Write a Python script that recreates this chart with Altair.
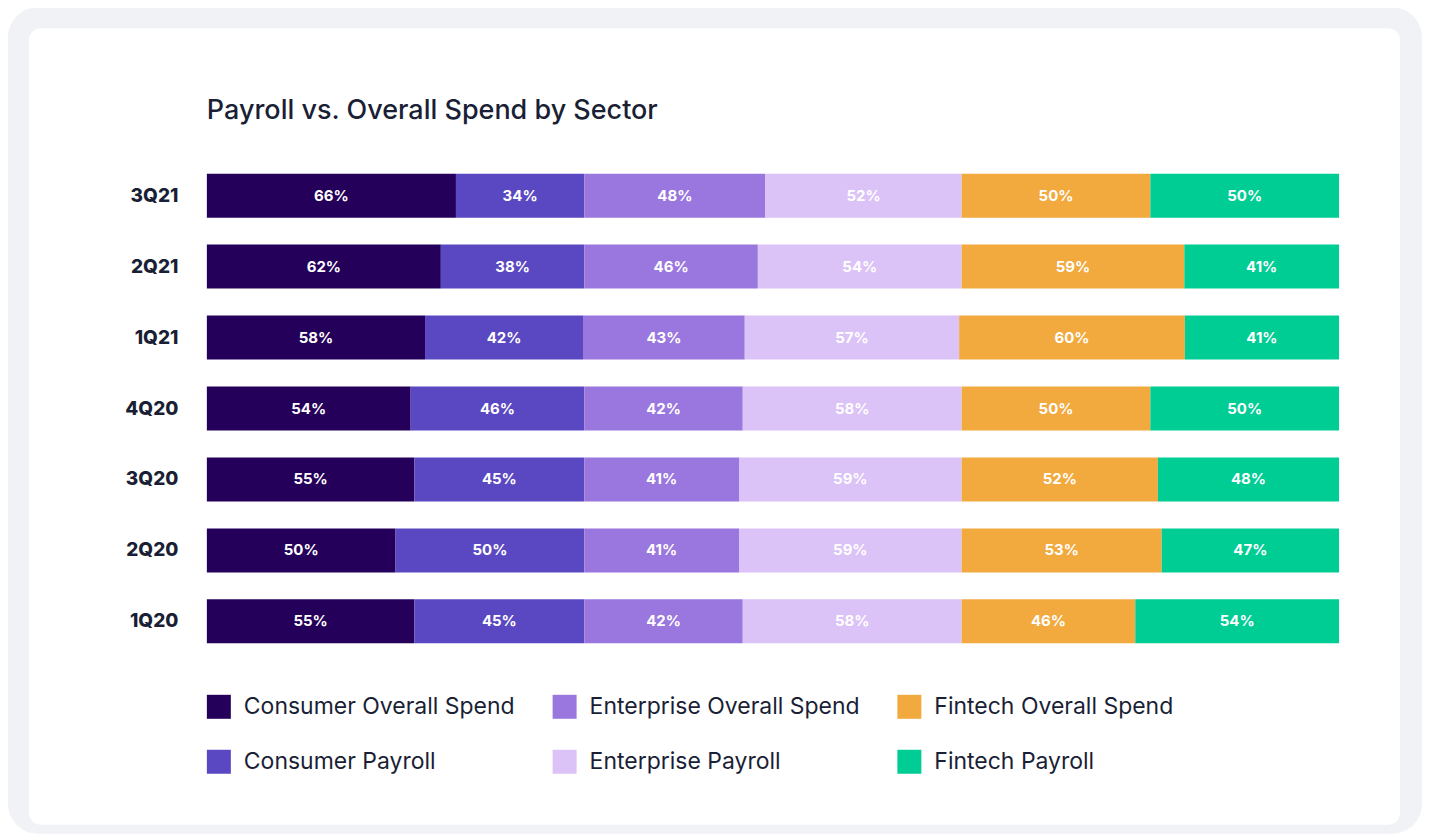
import altair as alt
import pandas as pd

quarters = ["3Q21", "2Q21", "1Q21", "4Q20", "3Q20", "2Q20", "1Q20"]
series = ["Consumer Overall Spend", "Consumer Payroll",
          "Enterprise Overall Spend", "Enterprise Payroll",
          "Fintech Overall Spend", "Fintech Payroll"]
consumer_overall = [66, 62, 58, 54, 55, 50, 55]
consumer_payroll = [34, 38, 42, 46, 45, 50, 45]
enterprise_overall = [48, 46, 43, 42, 41, 41, 42]
enterprise_payroll = [52, 54, 57, 58, 59, 59, 58]
fintech_overall = [50, 59, 60, 50, 52, 53, 46]
fintech_payroll = [50, 41, 41, 50, 48, 47, 54]
colors = ["#24005a", "#5a48c2", "#9a77de", "#dbc2f7", "#f2a93e", "#00cd94"]
title_text = "Payroll vs. Overall Spend by Sector"

values = [consumer_overall, consumer_payroll, enterprise_overall,
          enterprise_payroll, fintech_overall, fintech_payroll]
rows = []
for si, (name, vals) in enumerate(zip(series, values)):
    for q, v in zip(quarters, vals):
        rows.append({"quarter": q, "series": name, "value": v, "order": si})
df = pd.DataFrame(rows)

INK = "#1a1f36"
FONT = "Inter"

base = alt.Chart(df).transform_joinaggregate(
    total="sum(value)", groupby=["quarter"]
).transform_stack(
    stack="value", groupby=["quarter"], sort=[alt.SortField("order")], as_=["s0", "s1"]
).transform_calculate(
    x0="datum.s0 / datum.total",
    x1="datum.s1 / datum.total",
    xm="(datum.s0 + datum.s1) / 2 / datum.total",
    label="datum.value + '%'",
)

yenc = alt.Y("quarter:N", sort=quarters, title=None,
             scale=alt.Scale(paddingInner=0.38, paddingOuter=0.19),
             axis=alt.Axis(domain=False, ticks=False, labelFont=FONT, labelFontSize=19,
                           labelFontWeight=800, labelColor=INK, labelPadding=29,
                           zindex=1))
xscale = alt.Scale(domain=[0, 1], nice=False, zero=True)

bars = base.mark_bar(stroke=None).encode(
    x=alt.X("x0:Q", scale=xscale, axis=None),
    x2="x1:Q",
    y=yenc,
    color=alt.Color("series:N", scale=alt.Scale(domain=series, range=colors),
                    legend=alt.Legend(title=None, orient="none", legendX=0, legendY=535,
                                      columns=3, columnPadding=37, rowPadding=31,
                                      symbolType="square", symbolSize=576,
                                      symbolStrokeWidth=0, labelFont=FONT,
                                      labelFontSize=23, labelColor=INK, labelOffset=13,
                                      labelLimit=400, padding=0, zindex=1)),
)

texts = base.mark_text(color="white", font=FONT, fontSize=15, fontWeight=700).encode(
    x=alt.X("xm:Q", scale=xscale, axis=None),
    y=alt.Y("quarter:N", sort=quarters),
    text="label:N",
)

deco = alt.Chart(alt.Data(values=[{}]))
outer = deco.mark_rect(fill="#f1f2f6", cornerRadius=30).encode(
    x=alt.value(-199), x2=alt.value(1216), y=alt.value(-153), y2=alt.value(674))
inner = deco.mark_rect(fill="white", cornerRadius=12).encode(
    x=alt.value(-178), x2=alt.value(1194), y=alt.value(-132), y2=alt.value(665))
title = deco.mark_text(align="left", baseline="alphabetic", font=FONT, fontSize=27,
                       fontWeight=500, color=INK).encode(
    x=alt.value(0), y=alt.value(-41), text=alt.value(title_text))

chart = alt.layer(outer, inner, title, bars, texts).properties(
    width=1133, height=497,
    autosize=alt.AutoSizeParams(type="none"),
    padding={"left": 199, "top": 152, "right": 83, "bottom": 178},
    background="white",
).configure_view(stroke=None)

chart.save("out.html", embed_options={"renderer": "svg", "actions": False})
